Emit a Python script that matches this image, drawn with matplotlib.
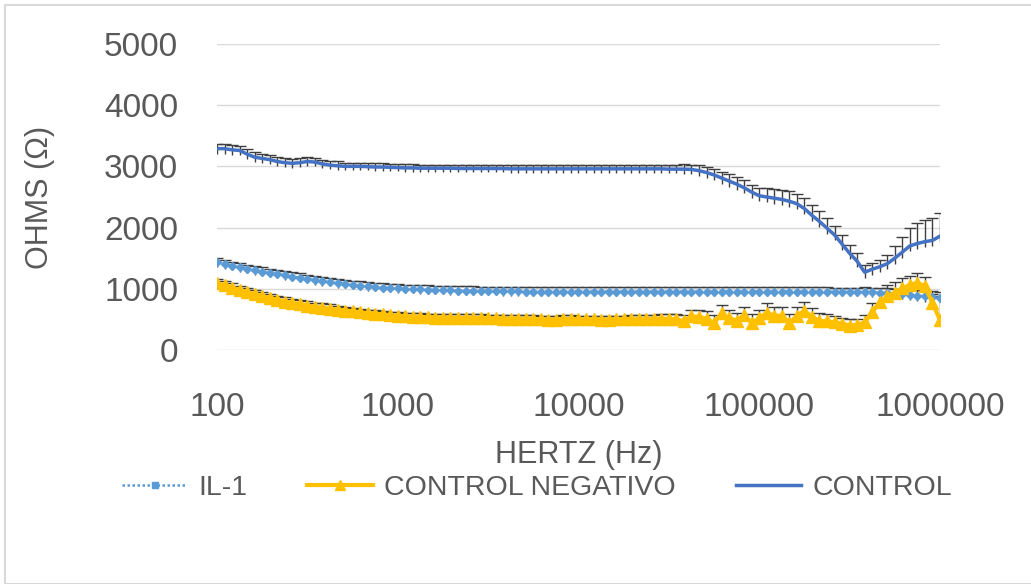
import numpy as np
import matplotlib
matplotlib.use("Agg")
import matplotlib.pyplot as plt
from matplotlib.patches import Rectangle
from matplotlib.lines import Line2D

plt.rcParams["font.family"] = ["Liberation Sans", "DejaVu Sans"]

# barrido de frecuencia: 97 puntos de 100 Hz a 1 MHz
frecuencia = np.logspace(2, 6, 97)

control = [
    3290, 3290, 3270, 3260, 3200, 3150, 3130, 3110, 3080, 3060, 3050, 3060, 3080,
    3070, 3040, 3020, 3010, 3000, 3000, 3000, 2995, 2990, 2990, 2985, 2980,
    2975, 2975, 2970, 2970, 2970, 2970, 2970, 2965, 2965, 2965, 2965, 2965, 2965,
    2965, 2960, 2960, 2960, 2960, 2960, 2960, 2960, 2960, 2960, 2960, 2960, 2960,
    2960, 2960, 2960, 2960, 2960, 2960, 2960, 2960, 2960, 2955, 2955, 2955,
    2950, 2930, 2900, 2860, 2810, 2760, 2710, 2650, 2580,
    2520, 2500, 2480, 2460, 2430, 2390, 2310,
    2200, 2100, 1990, 1880, 1730, 1580, 1450, 1270,
    1320, 1360, 1410, 1500, 1600, 1700, 1740, 1770, 1790, 1860,
]
control_err = [
    80, 80, 80, 80, 80, 80, 80, 70, 70, 70, 70, 70, 70,
    70, 70, 70, 70, 60, 60, 60, 60, 60, 60, 60, 60,
    60, 60, 60, 60, 60, 60, 60, 60, 60, 60, 60, 60, 60,
    60, 60, 60, 60, 60, 60, 60, 60, 60, 60, 60, 60, 60,
    60, 60, 60, 60, 60, 70, 70, 70, 70, 70, 70, 80,
    80, 90, 90, 100, 100, 110, 110, 120, 120,
    130, 140, 150, 160, 160, 160, 170,
    170, 170, 160, 150, 150, 140, 130, 120,
    100, 110, 150, 200, 250, 300, 330, 350, 360, 380,
]

il1 = [
    1430, 1400, 1370, 1350, 1320, 1300, 1280, 1260, 1240, 1220, 1200, 1180, 1160,
    1140, 1120, 1110, 1090, 1075, 1060, 1050, 1040, 1030, 1020, 1010, 1005,
    1000, 995, 990, 985, 980, 978, 975, 972, 970, 968, 966, 964, 962, 960, 960, 958,
    955, 955, 955, 955, 955, 955, 955, 955, 955, 955, 955, 955, 955, 955, 955,
    955, 955, 955, 955, 955, 955, 955, 955, 955, 955, 955, 955, 955, 955, 955,
    955, 955, 955, 955, 955, 955, 955, 955, 955, 955, 955, 950, 950, 950, 950,
    945, 940, 935, 930, 920, 910, 900, 890, 875, 860, 850,
]
il1_err = [
    70, 70, 70, 70, 70, 70, 70, 70, 70, 70, 70, 70, 70,
    70, 70, 70, 70, 70, 70, 70, 70, 70, 70, 70, 70,
    70, 70, 70, 70, 70, 70, 70, 70, 70, 70, 70, 70, 70, 70, 70, 70,
    70, 70, 70, 70, 70, 70, 70, 70, 70, 70, 70, 70, 70, 70, 70,
    70, 70, 70, 70, 70, 70, 70, 70, 70, 70, 70, 70, 70, 70, 70,
    70, 70, 70, 70, 70, 70, 70, 70, 70, 70, 70, 70, 70, 70, 70,
    80, 80, 80, 80, 80, 80, 90, 90, 90, 100, 100,
]

control_neg = [
    1090, 1060, 1020, 980, 945, 910, 880, 850, 820, 790, 770, 745, 725,
    705, 690, 675, 660, 645, 630, 615, 600, 590, 580, 565, 555,
    550, 545, 540, 535, 530, 530, 525, 525, 520, 520, 520, 515, 515, 510, 510,
    510, 505, 505, 500, 490, 495, 505, 505, 500, 500, 500, 495, 495, 500, 500,
    505, 500, 500, 505, 510,
    510, 500, 470, 550, 540, 510, 440, 600, 520, 480, 570, 440, 520, 610, 560,
    560, 440, 560, 640, 540, 470, 470, 450, 430, 400, 410, 450, 620, 780, 880,
    930, 1010, 1060, 1100, 1040, 770, 490,
]
control_neg_err = [
    70, 70, 70, 70, 70, 70, 70, 70, 70, 70, 70, 70, 70,
    70, 70, 70, 60, 60, 60, 60, 60, 60, 60, 60, 60,
    60, 60, 60, 60, 60, 60, 60, 60, 60, 60, 60, 60, 60, 60, 60,
    60, 60, 60, 60, 60, 60, 60, 60, 60, 60, 60, 60, 60, 60, 60,
    60, 70, 70, 70, 80,
    80, 90, 100, 110, 110, 120, 130, 130, 130, 130, 140, 140, 140, 150, 150,
    150, 150, 150, 150, 140, 130, 120, 110, 100, 100, 100, 120, 150, 170, 180,
    180, 160, 150, 150, 150, 150, 400,
]

x_ticks = [100, 1000, 10000, 100000, 1000000]
x_tick_labels = ["100", "1000", "10000", "100000", "1000000"]
y_ticks = [0, 1000, 2000, 3000, 4000, 5000]

fig = plt.figure(figsize=(10.31, 5.84), dpi=100)
ax = fig.add_axes([0.2105, 0.4007, 0.7012, 0.524])

err_color = "#3f3f3f"
series = [
    (control, control_err),
    (il1, il1_err),
    (control_neg, control_neg_err),
]
for vals, errs in series:
    vals = np.array(vals)
    errs = np.array(errs)
    # la parte inferior de las barras queda corta, casi oculta por la linea
    ax.vlines(frecuencia, vals - np.minimum(errs, 90), vals + errs,
              color=err_color, lw=1, zorder=2)
    ax.plot(frecuencia, vals + errs, ls="none", marker="_", ms=9, mew=1,
            color=err_color, zorder=2)

ax.plot(frecuencia, control, color="#4472C4", lw=2.5, zorder=4)
ax.plot(frecuencia, il1, color="#5B9BD5", lw=1.8, ls=(0, (1, 1)),
        marker="D", ms=4.5, zorder=4)
ax.plot(frecuencia, control_neg, color="#FFC000", lw=3, marker="^", ms=8,
        zorder=5)

ax.set_xscale("log")
ax.set_xlim(100, 1000000)
ax.set_ylim(0, 5000)
ax.set_xticks(x_ticks)
ax.set_xticklabels(x_tick_labels)
ax.xaxis.set_minor_locator(matplotlib.ticker.NullLocator())
ax.set_yticks(y_ticks)
ax.tick_params(axis="both", length=0, labelsize=24, labelcolor="#595959")
ax.tick_params(axis="y", pad=28)
ax.tick_params(axis="x", pad=30)
ax.grid(axis="y", color="#d9d9d9", lw=1)
ax.set_axisbelow(True)
for s in ax.spines.values():
    s.set_visible(False)

fig.text(40 / 1031, 1 - 197 / 584, "OHMS (Ω)", rotation=90, ha="center",
         va="center", fontsize=22, color="#595959")
fig.text(579 / 1031, 1 - 455 / 584, "HERTZ (Hz)", ha="center", va="center",
         fontsize=22, color="#595959")

handles = [
    Line2D([], [], color="#5B9BD5", lw=1.8, ls=(0, (1, 1)), marker="s", ms=4),
    Line2D([], [], color="#FFC000", lw=3, marker="^", ms=7),
    Line2D([], [], color="#4472C4", lw=2.5),
]
fig.legend(handles, ["IL-1", "CONTROL NEGATIVO", "CONTROL"], ncol=3,
           loc="center", bbox_to_anchor=(537 / 1031, 1 - 488 / 584),
           frameon=False, fontsize=20.5, labelcolor="#595959",
           handlelength=2.3, columnspacing=2.1, handletextpad=0.4)

fig.patches.append(Rectangle((5 / 1031, 0), 1.0, 1 - 5 / 584,
                             transform=fig.transFigure, fill=False,
                             edgecolor="#d9d9d9", lw=1.5))

fig.savefig("out.png", dpi=100)
